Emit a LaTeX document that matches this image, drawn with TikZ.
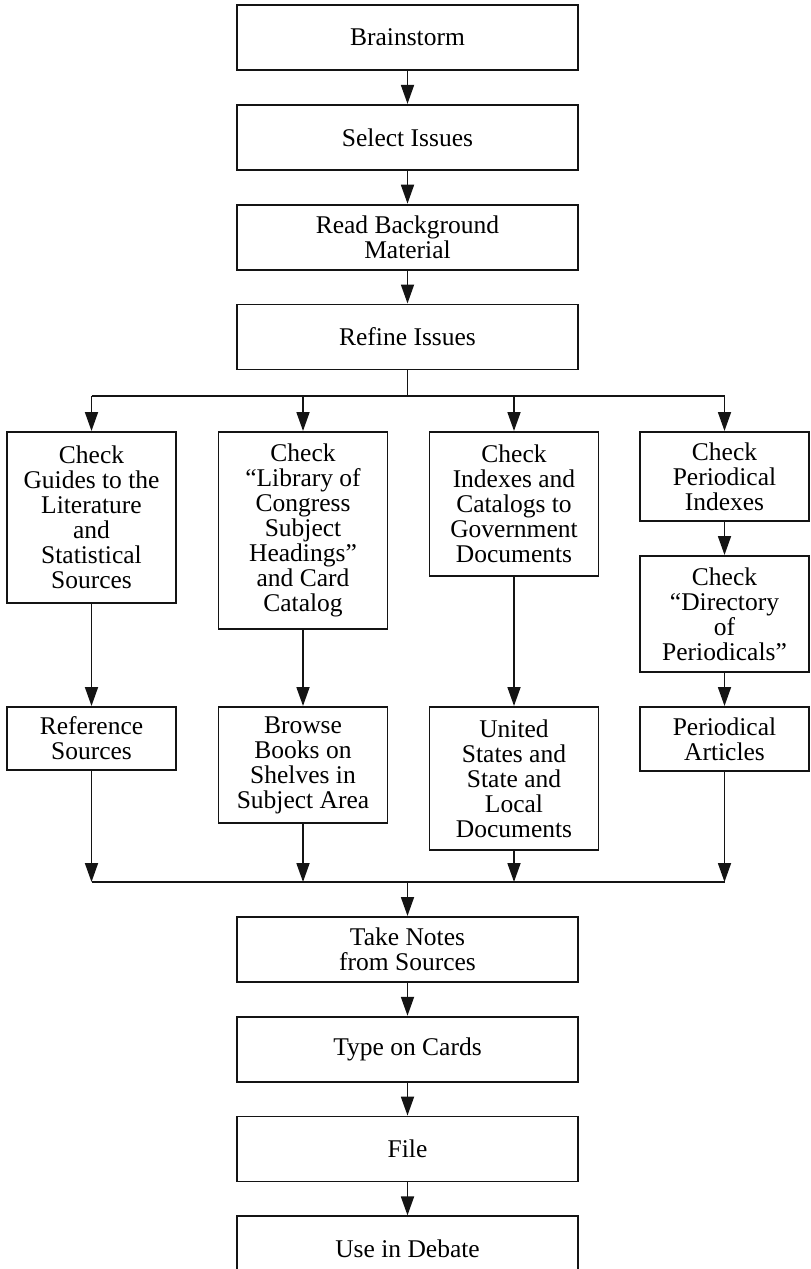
\documentclass[tikz,border=0pt]{standalone}
\usepackage{fontspec}
\setmainfont{Liberation Serif}
\usetikzlibrary{arrows.meta, positioning, calc}
\definecolor{inkdark}{RGB}{20,20,20}

\begin{document}
\begin{tikzpicture}[
    x=1pt, y=-1pt,
    node distance=33pt,
    box/.style={rectangle, draw=inkdark, line width=1.8pt, align=center,
                font=\fontsize{25.5}{25}\selectfont, inner sep=0pt},
    mainbox/.style={box, minimum width=341pt, minimum height=65pt},
    colbox/.style={box, minimum width=169pt, anchor=north},
    arr/.style={-{Triangle[length=19pt, width=13pt]}, line width=1.8pt, inkdark},
    joinline/.style={line width=1.8pt, inkdark},
]
    \useasboundingbox (0,0) rectangle (811,1269);

    % top chain
    \node[mainbox] (brain) at (407.5,37.5) {Brainstorm};
    \node[mainbox, below=of brain] (select) {Select Issues};
    \node[mainbox, below=of select] (read) {Read Background\\Material};
    \node[mainbox, below=of read] (refine) {Refine Issues};

    \draw[arr] (brain) -- (select);
    \draw[arr] (select) -- (read);
    \draw[arr] (read) -- (refine);

    % four search columns
    \node[colbox, minimum height=171pt] (guides) at (91.5,431)
        {Check\\Guides to the\\Literature\\and\\Statistical\\Sources};
    \node[colbox, minimum height=197pt] (lcsh) at (303,431)
        {Check\\“Library of\\Congress\\Subject\\Headings”\\and Card\\Catalog};
    \node[colbox, minimum height=144pt] (govdoc) at (514,431)
        {Check\\Indexes and\\Catalogs to\\Government\\Documents};
    \node[colbox, minimum height=89pt] (perind) at (724.5,431)
        {Check\\Periodical\\Indexes};
    \node[colbox, minimum height=116pt] (dirper) at (724.5,555)
        {Check\\“Directory\\of\\Periodicals”};

    \node[colbox, minimum height=63pt] (refsrc) at (91.5,706)
        {Reference\\Sources};
    \node[colbox, minimum height=116pt] (browse) at (303,706)
        {Browse\\Books on\\Shelves in\\Subject Area};
    \node[colbox, minimum height=143pt] (usdocs) at (514,706)
        {United\\States and\\State and\\Local\\Documents};
    \node[colbox, minimum height=64pt] (artic) at (724.5,706)
        {Periodical\\Articles};

    % split after refining
    \coordinate (split) at (407.5,396);
    \draw[joinline] (refine) -- (split);
    \draw[joinline] (guides.north |- split) -- (perind.north |- split);
    \draw[arr] (guides.north |- split) -- (guides.north);
    \draw[arr] (lcsh.north |- split) -- (lcsh.north);
    \draw[arr] (govdoc.north |- split) -- (govdoc.north);
    \draw[arr] (perind.north |- split) -- (perind.north);

    \draw[arr] (guides) -- (refsrc);
    \draw[arr] (lcsh) -- (browse);
    \draw[arr] (govdoc) -- (usdocs);
    \draw[arr] (perind) -- (dirper);
    \draw[arr] (dirper) -- (artic);

    % merge into note taking
    \coordinate (merge) at (407.5,882);
    \draw[arr] (refsrc.south) -- (refsrc.south |- merge);
    \draw[arr] (browse.south) -- (browse.south |- merge);
    \draw[arr] (usdocs.south) -- (usdocs.south |- merge);
    \draw[arr] (artic.south) -- (artic.south |- merge);
    \draw[joinline] (refsrc.south |- merge) -- (artic.south |- merge);

    % bottom chain
    \node[mainbox, anchor=north] (notes) at (407.5,916) {Take Notes\\from Sources};
    \node[mainbox, below=of notes] (cards) {Type on Cards};
    \node[mainbox, below=of cards] (file) {File};
    \node[mainbox, below=of file] (debate) {Use in Debate};

    \draw[arr] (merge) -- (notes);
    \draw[arr] (notes) -- (cards);
    \draw[arr] (cards) -- (file);
    \draw[arr] (file) -- (debate);
\end{tikzpicture}
\end{document}
